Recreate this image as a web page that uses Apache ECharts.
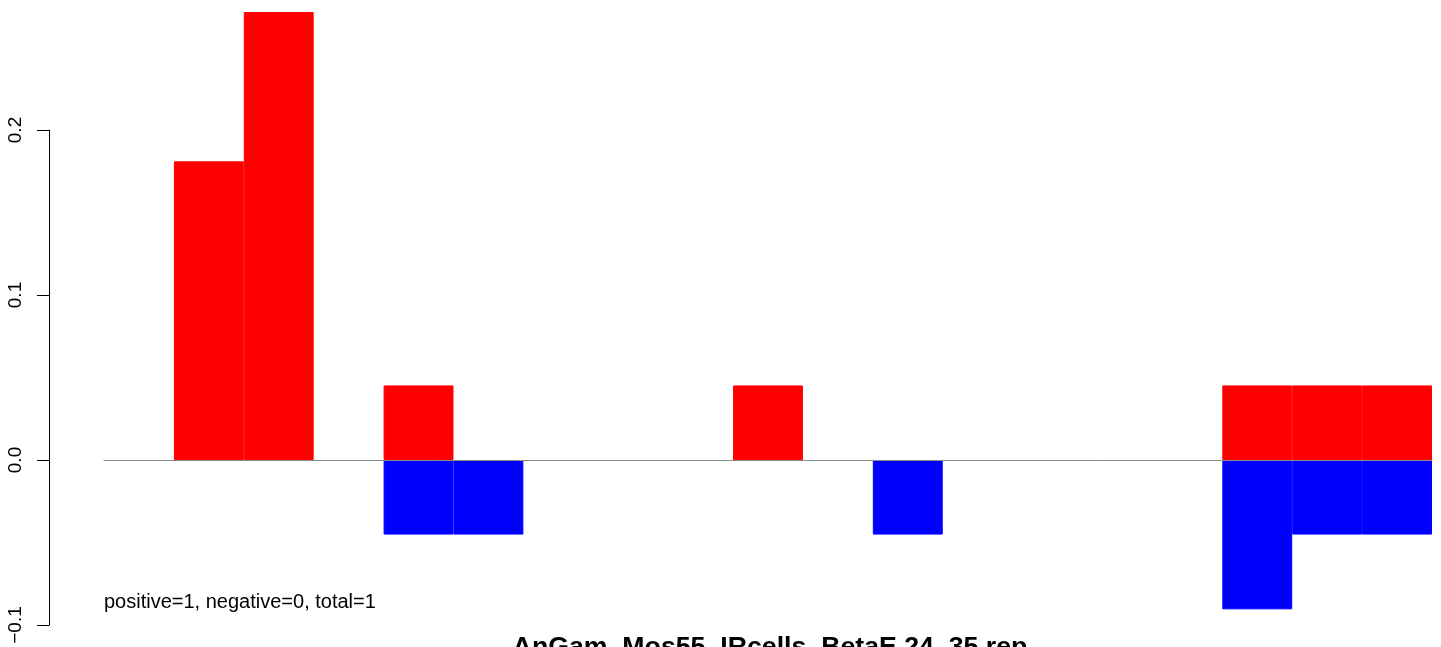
<!DOCTYPE html>
<html>
<head>
<meta charset="utf-8">
<script src="https://cdn.jsdelivr.net/npm/echarts@6/dist/echarts.min.js"></script>
<style>
html,body{margin:0;padding:0;background:#fff;}
#chart{width:1441px;height:647px;}
</style>
</head>
<body>
<div id="chart"></div>
<script>
// 19 bins (no labels shown in the original)
var categories = ['1','2','3','4','5','6','7','8','9','10','11','12','13','14','15','16','17','18','19'];
var positiveValues = [null, 0.181, 0.2715, null, 0.0452, null, null, null, null, 0.0452, null, null, null, null, null, null, 0.0452, 0.0452, 0.0452];
var negativeValues = [null, null, null, null, -0.0452, -0.0452, null, null, null, null, null, -0.0452, null, null, null, null, -0.0905, -0.0452, -0.0452];
var yTicks = [-0.1, 0.0, 0.1, 0.2];
var noteText = 'positive=1, negative=0, total=1';
var titleText = 'AnGam_Mos55_IRcells_BetaE.24_35.rep';

var FONT = '"Liberation Sans", Arial, Helvetica, sans-serif';
var chart = echarts.init(document.getElementById('chart'));
chart.setOption({
  animation: false,
  backgroundColor: '#ffffff',
  title: {
    text: titleText,
    left: 770,
    textAlign: 'center',
    top: 634,
    padding: 0,
    textStyle: {fontFamily: FONT, fontSize: 26.7, fontWeight: 'bold', color: '#000'}
  },
  graphic: [{
    type: 'text',
    left: 104,
    top: 592,
    style: {text: noteText, font: '20px ' + FONT, fill: '#000'}
  }],
  grid: [
    {left: 104, right: 9, top: 12, bottom: 22},
    {left: 49, width: 1, top: 130, bottom: 22}
  ],
  xAxis: [
    {type: 'category', gridIndex: 0, data: categories, boundaryGap: true, z: 5,
     axisLine: {show: true, onZero: true, lineStyle: {color: '#8a8a8a', width: 1}},
     axisTick: {show: false}, axisLabel: {show: false}, splitLine: {show: false}},
    {type: 'value', gridIndex: 1, show: false}
  ],
  yAxis: [
    {type: 'value', gridIndex: 0, min: -0.1, max: 0.2715, show: false, splitLine: {show: false}},
    {type: 'value', gridIndex: 1, min: yTicks[0], max: yTicks[yTicks.length - 1], interval: 0.1,
     axisLine: {show: true, lineStyle: {color: '#000', width: 1}},
     axisTick: {show: true, inside: false, length: 12, lineStyle: {color: '#000'}},
     splitLine: {show: false},
     axisLabel: {show: true, rotate: 90, margin: 24, fontFamily: FONT, fontSize: 19, color: '#000',
       formatter: function (v) { return v.toFixed(1).replace('-', '\u2212'); }}}
  ],
  series: [
    {type: 'bar', xAxisIndex: 0, yAxisIndex: 0, data: positiveValues, barWidth: '100%', barGap: '-100%',
     itemStyle: {color: '#ff0000', borderColor: '#ff0000', borderWidth: 1}, silent: true},
    {type: 'bar', xAxisIndex: 0, yAxisIndex: 0, data: negativeValues, barWidth: '100%', barGap: '-100%',
     itemStyle: {color: '#0000ff', borderColor: '#0000ff', borderWidth: 1}, silent: true}
  ]
});
</script>
</body>
</html>
